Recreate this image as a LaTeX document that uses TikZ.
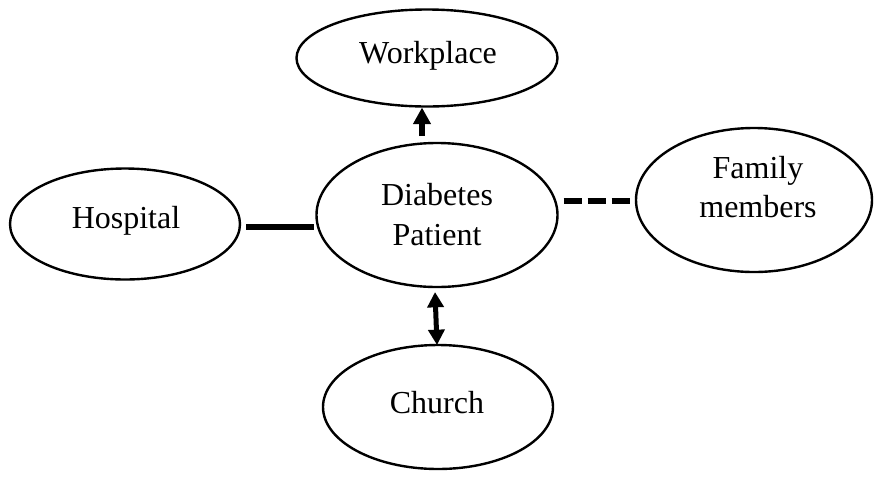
\documentclass[tikz,border=0pt]{standalone}
\usepackage{fontspec}
\setmainfont{Liberation Serif}
\usetikzlibrary{shapes.geometric,arrows.meta,calc}
\begin{document}
\begin{tikzpicture}[x=0.75pt,y=-0.75pt,
  place/.style={draw,line width=1.8pt,ellipse,inner sep=0pt,outer sep=0pt,
    align=center,font=\fontsize{23.5}{30}\selectfont},
  label/.style={font=\fontsize{24}{30}\selectfont,anchor=base},
  tie/.style={line width=5pt},
  dashtie/.style={line width=4.5pt,dash pattern=on 13.5pt off 4.5pt},
  linkarrow/.style={line width=4pt,-{Triangle[width=12.75pt,length=12.5pt]}},
  duallink/.style={line width=3.75pt,{Triangle[width=12pt,length=11.5pt]}-{Triangle[width=12pt,length=11.5pt]}}]
\useasboundingbox (0,0) rectangle (874,483);
% the five places
\node[place,minimum width=195.75pt,minimum height=72.75pt] (work) at (427,58) {};
\node[label] at (428,63) {Workplace};
\node[place,minimum width=180.75pt,minimum height=108pt] (pat) at (437,215) {};
\node[label] at (437,205) {Diabetes};
\node[label] at (437,245) {Patient};
\node[place,minimum width=172.5pt,minimum height=83.25pt] (hosp) at (125,224) {};
\node[label] at (126,228) {Hospital};
\node[place,minimum width=177pt,minimum height=108pt] (fam) at (754,200) {};
\node[label] at (758,178) {Family};
\node[label] at (758,217) {members};
\node[place,minimum width=172.5pt,minimum height=93pt] (church) at (438,407) {};
\node[label] at (437,413) {Church};
% links between the patient and the places
\draw[tie] ($(hosp.east)+(6,3)$) -- ($(pat.west)+(-3,12)$);
\draw[dashtie] ($(pat.east)+(6,-14)$) -- ($(fam.west)+(-6,1)$);
\draw[linkarrow] ($(pat.north)+(-15,-7)$) -- ($(work.south)+(-5,1)$);
\draw[duallink] ($(pat.south)+(-2,5)$) -- ($(church.north)+(-1,0)$);
\end{tikzpicture}
\end{document}
